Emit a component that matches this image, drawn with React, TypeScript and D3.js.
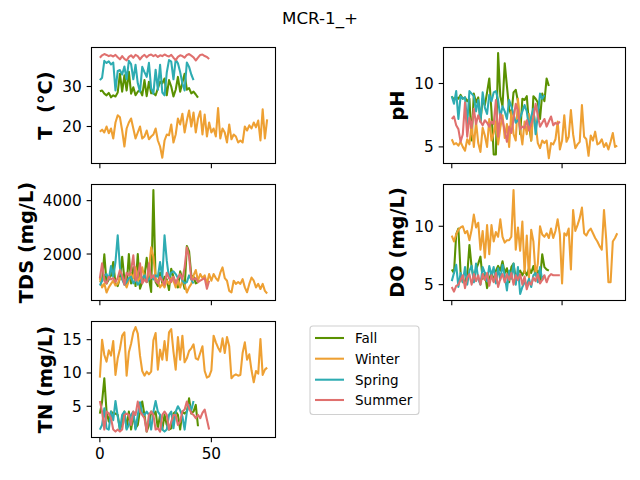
import React from 'react'
import * as d3 from 'd3'

// season colours
const seasons = ['Fall', 'Winter', 'Spring', 'Summer']
const colors = ['#5a9100', '#eea033', '#2eacb2', '#e0706e']

// temperature
const fallT = [28.8, 29.0, 28.2, 27.8, 28.4, 27.3, 27.8, 27.5, 28.5, 33.2, 28.7, 32.8, 29.0, 33.7, 28.2, 29.8, 27.8, 28.7, 29.1, 27.8, 31.6, 27.6, 31.2, 28.3, 28.3, 27.8, 29.5, 31.2, 30.8, 32.0, 27.8, 31.6, 30.0, 27.5, 29.2, 32.4, 28.7, 31.0, 33.2, 29.2, 29.6, 28.3, 28.7, 28.0, 27.2]
const winterT = [18.7, 19.2, 18.5, 20.0, 18.3, 19.5, 17.0, 21.0, 22.8, 22.3, 19.0, 15.0, 19.5, 21.0, 22.0, 19.5, 17.0, 18.5, 20.0, 17.0, 17.5, 19.0, 16.8, 17.5, 18.0, 19.5, 16.5, 15.0, 12.2, 16.5, 18.0, 17.8, 20.5, 16.0, 18.0, 22.0, 20.5, 23.2, 18.5, 21.5, 24.0, 20.0, 23.5, 18.5, 22.0, 23.8, 18.0, 23.0, 17.5, 21.0, 18.5, 19.5, 17.5, 24.6, 17.0, 19.5, 18.5, 16.0, 20.5, 16.8, 18.0, 17.5, 16.0, 16.5, 16.0, 20.0, 19.0, 20.3, 19.5, 21.0, 19.8, 21.5, 16.5, 24.3, 17.0, 21.8]
const springT = [31.6, 32.2, 36.4, 35.9, 36.3, 35.5, 36.0, 29.0, 33.9, 34.1, 33.0, 35.0, 31.8, 36.4, 35.6, 31.8, 35.4, 30.8, 28.7, 34.9, 33.6, 32.4, 35.9, 29.5, 28.2, 34.2, 29.2, 35.4, 28.5, 27.8, 33.5, 36.6, 36.2, 31.8, 36.7, 35.8, 33.6, 30.8, 29.0, 36.0, 34.9, 33.0, 31.6]
const summerT = [37.2, 37.8, 38.1, 37.9, 37.6, 37.8, 37.5, 37.9, 37.3, 36.8, 37.6, 36.9, 36.5, 37.4, 37.8, 37.2, 37.9, 37.6, 36.8, 37.5, 37.9, 37.3, 37.8, 38.0, 37.6, 37.9, 37.4, 37.8, 37.6, 38.0, 37.7, 37.5, 37.9, 37.2, 36.6, 37.4, 37.8, 37.6, 37.2, 37.9, 38.1, 37.7, 37.3, 36.5, 37.2, 37.9, 38.0, 37.6, 37.4, 36.9]

// pH
const fallPH = [9.0, 8.7, 8.9, 8.8, 9.1, 8.8, 8.9, 8.6, 8.8, 5.5, 9.2, 8.5, 8.9, 7.0, 8.8, 8.3, 9.3, 10.4, 7.8, 4.4, 4.4, 12.4, 9.0, 8.2, 11.6, 9.8, 8.0, 7.5, 9.3, 9.5, 8.6, 6.0, 8.8, 8.7, 9.0, 6.8, 5.5, 9.0, 8.8, 8.5, 7.2, 9.2, 8.6, 10.4, 9.8]
const winterPH = [5.6, 5.2, 5.3, 5.1, 5.4, 5.0, 4.7, 5.6, 5.2, 6.8, 5.0, 7.0, 5.3, 4.6, 6.5, 5.9, 5.0, 7.2, 5.5, 6.1, 7.0, 5.2, 6.5, 7.5, 5.7, 6.8, 5.0, 7.8, 6.0, 5.5, 8.8, 6.4, 5.2, 7.0, 6.0, 7.6, 5.5, 7.8, 6.8, 5.3, 4.9, 5.5, 5.3, 5.5, 4.1, 5.3, 5.2, 5.6, 7.0, 4.8, 5.5, 7.5, 5.4, 5.8, 7.9, 6.0, 4.9, 5.2, 5.4, 8.3, 5.8, 5.6, 4.3, 5.9, 5.5, 6.2, 5.2, 5.3, 5.6, 5.0, 5.3, 4.8, 5.4, 6.1, 5.0, 5.1]
const springPH = [9.0, 8.4, 9.4, 7.2, 9.0, 8.8, 8.9, 6.8, 9.4, 9.2, 9.0, 7.8, 8.7, 7.0, 9.3, 8.1, 7.6, 9.1, 8.6, 9.3, 9.4, 8.7, 7.3, 8.2, 7.8, 7.2, 8.7, 8.2, 7.6, 6.9, 7.1, 7.3, 7.8, 8.3, 7.8, 6.5, 7.4, 8.0, 6.0, 7.5, 9.2, 8.8, 9.1]
const summerPH = [7.2, 7.4, 6.7, 6.4, 5.4, 6.0, 8.5, 5.8, 7.3, 6.5, 8.0, 6.8, 7.5, 7.0, 6.7, 7.1, 6.9, 6.6, 7.0, 6.8, 8.7, 5.8, 7.6, 7.1, 6.3, 5.4, 6.6, 6.1, 7.2, 8.4, 7.9, 6.4, 6.6, 6.5, 7.1, 6.3, 6.8, 7.3, 8.4, 7.5, 6.6, 6.9, 7.2, 6.6, 7.0, 7.4, 6.7, 6.9, 6.8, 7.0]

// TDS
const fallTDS = [950, 1000, 1990, 900, 1050, 1200, 1700, 880, 800, 1100, 1900, 1050, 800, 2000, 900, 1500, 800, 2000, 700, 950, 1150, 1860, 1100, 580, 4400, 950, 800, 1300, 900, 1150, 1050, 650, 1450, 1150, 900, 750, 1350, 1050, 700, 2300, 2100, 1200, 1150, 900, 950]
const winterTDS = [1100, 750, 900, 560, 750, 880, 1000, 820, 880, 1100, 1050, 1000, 750, 1000, 1250, 1100, 1500, 1000, 1100, 1500, 1100, 950, 1400, 2250, 1900, 1100, 1000, 750, 880, 750, 1000, 880, 1100, 1000, 750, 1000, 750, 1000, 880, 560, 750, 880, 1200, 1400, 1000, 1250, 1100, 1200, 880, 1250, 1000, 1250, 1100, 1000, 1300, 1500, 1100, 1000, 620, 560, 1000, 880, 950, 880, 1060, 750, 570, 880, 1120, 1000, 750, 880, 690, 880, 620, 520]
const springTDS = [820, 1000, 1200, 1250, 1050, 1550, 1150, 1700, 2700, 1500, 1050, 850, 950, 1100, 1150, 900, 1050, 850, 950, 1100, 1200, 950, 1050, 1150, 1050, 1200, 1150, 1700, 1100, 2700, 1750, 1100, 1300, 1350, 1250, 1100, 1200, 1000, 900, 950, 1200, 1050, 900]
const summerTDS = [1100, 1650, 1000, 900, 1150, 1050, 1100, 950, 1100, 1400, 1200, 850, 1300, 1200, 1400, 1950, 1000, 1150, 1650, 900, 1050, 950, 1650, 1100, 1200, 1000, 900, 1150, 1000, 850, 1300, 1100, 950, 1150, 900, 1100, 1250, 1050, 1500, 2250, 1900, 1050, 1050, 1100, 950, 1000, 1050, 1100, 700, 1000]

// dissolved oxygen
const fallDO = [6.3, 6.0, 9.3, 9.8, 6.0, 5.2, 5.3, 5.8, 8.4, 6.5, 5.5, 6.3, 6.8, 7.4, 5.5, 6.0, 4.7, 5.5, 6.0, 5.3, 6.2, 6.6, 6.2, 7.0, 6.0, 6.4, 5.2, 6.5, 6.8, 5.5, 6.0, 6.2, 5.8, 6.2, 5.8, 6.4, 6.0, 6.6, 5.8, 6.2, 5.4, 7.6, 6.5, 6.3, 6.2]
const winterDO = [9.2, 8.7, 9.3, 9.7, 9.9, 10.0, 9.4, 9.6, 8.8, 9.7, 11.0, 9.9, 10.3, 8.0, 9.6, 7.3, 10.1, 7.6, 10.1, 8.7, 9.5, 9.1, 10.6, 9.1, 8.6, 8.8, 8.8, 9.1, 13.1, 8.0, 9.9, 7.9, 10.4, 6.0, 9.2, 5.6, 9.7, 8.7, 5.8, 6.8, 10.0, 9.3, 9.1, 9.4, 9.0, 9.8, 9.0, 9.6, 10.6, 9.3, 5.1, 9.4, 9.2, 9.8, 6.3, 11.4, 9.6, 10.1, 10.7, 11.6, 9.4, 9.2, 9.6, 9.8, 9.4, 9.0, 8.7, 8.3, 8.0, 11.4, 8.9, 5.2, 5.2, 8.7, 9.0, 9.4]
const springDO = [5.3, 6.0, 6.7, 4.8, 6.0, 5.2, 6.5, 5.0, 6.2, 6.6, 5.2, 6.8, 5.5, 5.0, 6.5, 6.0, 5.3, 6.6, 5.8, 6.5, 5.1, 6.4, 5.4, 6.7, 5.8, 4.5, 6.2, 5.5, 6.8, 5.0, 6.5, 4.2, 4.8, 5.2, 5.0, 5.5, 4.8, 5.8, 6.0, 5.2, 6.5, 5.4, 5.8]
const summerDO = [4.8, 4.4, 4.9, 5.0, 5.4, 5.8, 4.7, 5.6, 5.9, 5.0, 5.9, 5.3, 5.8, 5.0, 5.9, 5.4, 6.0, 4.9, 5.8, 5.2, 6.0, 4.8, 5.5, 5.9, 5.2, 5.9, 5.4, 6.0, 5.0, 5.8, 5.4, 5.9, 5.0, 5.7, 4.6, 5.2, 5.0, 5.6, 5.3, 5.9, 5.1, 5.4, 5.8, 5.2, 5.7, 5.9, 5.8, 5.8, 5.8, 5.8]

// total nitrogen
const fallTN = [3.9, 5.7, 9.2, 4.2, 2.7, 4.2, 3.9, 3.9, 3.7, 1.5, 2.5, 4.2, 1.7, 4.2, 1.5, 3.7, 1.7, 2.2, 4.5, 5.7, 3.7, 1.2, 2.2, 4.2, 3.7, 4.2, 1.7, 3.7, 1.5, 3.7, 2.2, 1.5, 1.7, 3.9, 4.2, 3.7, 1.5, 4.2, 3.9, 4.2, 6.2, 3.9, 4.2, 5.2, 2.0]
const winterTN = [9.3, 15.0, 12.7, 11.7, 13.4, 12.6, 14.8, 9.7, 12.2, 13.6, 15.6, 16.1, 9.6, 13.1, 14.4, 16.1, 16.9, 15.9, 12.6, 10.3, 9.6, 10.2, 9.8, 10.2, 14.9, 16.0, 10.5, 13.5, 12.0, 14.8, 11.9, 16.1, 16.6, 13.2, 10.5, 15.4, 12.0, 15.6, 11.6, 12.2, 13.3, 13.7, 14.3, 12.2, 12.0, 13.0, 14.0, 10.3, 9.3, 9.5, 10.4, 15.6, 14.6, 13.8, 13.2, 15.2, 13.0, 15.4, 14.0, 9.2, 9.6, 9.8, 9.6, 9.7, 13.0, 14.6, 12.0, 12.8, 10.4, 8.6, 10.3, 9.9, 15.1, 9.7, 10.5, 10.8]
const springTN = [1.5, 2.2, 4.7, 1.7, 1.5, 4.2, 2.9, 5.8, 3.5, 1.5, 3.7, 4.2, 1.5, 2.2, 3.7, 4.2, 1.5, 3.7, 5.6, 3.9, 3.7, 4.2, 3.7, 1.5, 4.2, 5.8, 4.2, 3.7, 1.5, 1.2, 1.5, 3.7, 4.2, 1.7, 4.2, 5.0, 4.4, 3.5, 1.5, 4.2, 5.2, 4.4, 5.8]
const summerTN = [5.8, 4.2, 1.5, 4.2, 3.9, 3.2, 1.5, 1.2, 1.5, 1.2, 1.5, 3.7, 3.9, 3.7, 2.2, 4.2, 3.7, 5.7, 4.2, 3.7, 3.2, 1.2, 3.7, 4.2, 3.7, 1.5, 1.7, 1.2, 3.7, 4.2, 3.7, 1.5, 2.7, 3.7, 3.7, 2.2, 2.7, 4.2, 4.5, 5.7, 4.7, 4.0, 3.7, 3.2, 3.7, 3.2, 4.0, 4.5, 3.0, 1.5]

const panels = [
    { label: 'T  (°C)', series: [fallT, winterT, springT, summerT], domain: [10.75, 39.75], ticks: [20, 30], col: 0, row: 0 },
    { label: 'pH', series: [fallPH, winterPH, springPH, summerPH], domain: [3.69, 12.84], ticks: [5, 10], col: 1, row: 0 },
    { label: 'TDS (mg/L)', series: [fallTDS, winterTDS, springTDS, summerTDS], domain: [259, 4604], ticks: [2000, 4000], col: 0, row: 1 },
    { label: 'DO (mg/L)', series: [fallDO, winterDO, springDO, summerDO], domain: [3.64, 13.58], ticks: [5, 10], col: 1, row: 1 },
    { label: 'TN (mg/L)', series: [fallTN, winterTN, springTN, summerTN], domain: [0.31, 17.73], ticks: [5, 10, 15], col: 0, row: 2 },
]
const xTicks = [0, 50]

const colX = [91.5, 443.5]
const colW = [184, 182]
const rowY = [47.5, 184.5, 321.5]
const rowH = 116
const font = 'DejaVu Sans, sans-serif'
const tickFs = 15.3

function Panel({ p }: { p: any }) {
    const x0 = colX[p.col]
    const w = colW[p.col]
    const y0 = rowY[p.row]
    const xScale = d3.scaleLinear().domain([-3.75, 78.75]).range([x0, x0 + w])
    const yScale = d3.scaleLinear().domain(p.domain).range([y0 + rowH, y0])
    const line = d3.line<number>().x((d, i) => xScale(i)).y(d => yScale(d))
    const maxLen = d3.max(p.ticks, (t: number) => String(t).length) as number
    const labelX = x0 - 9.72 - maxLen * 0.636 * tickFs - 5.6 - 4.6
    const showX = p.row === 2
    return (
        <g>
            {p.series.map((s: number[], k: number) => (
                <path key={k} d={line(s) || ''} fill="none" stroke={colors[k]} strokeWidth={2.08} strokeLinejoin="round" />
            ))}
            <rect x={x0} y={y0} width={w} height={rowH} fill="none" stroke="black" strokeWidth={1.1} />
            {p.ticks.map((t: number) => (
                <g key={t}>
                    <line x1={x0 - 4.86} x2={x0} y1={yScale(t)} y2={yScale(t)} stroke="black" strokeWidth={1.1} />
                    <text x={x0 - 9.72} y={yScale(t)} dy="0.36em" textAnchor="end" fontFamily={font} fontSize={tickFs}>{t}</text>
                </g>
            ))}
            {xTicks.map(t => (
                <g key={t}>
                    <line x1={xScale(t)} x2={xScale(t)} y1={y0 + rowH} y2={y0 + rowH + 4.86} stroke="black" strokeWidth={1.1} />
                    {showX && <text x={xScale(t)} y={y0 + rowH + 9.72 + 11.3} textAnchor="middle" fontFamily={font} fontSize={tickFs}>{t}</text>}
                </g>
            ))}
            <text transform={`translate(${labelX},${y0 + rowH / 2}) rotate(-90)`} textAnchor="middle" fontFamily={font} fontSize={19.4} fontWeight="bold" style={{ whiteSpace: 'pre' }}>{p.label}</text>
        </g>
    )
}

export default function App() {
    const legendY = [338, 358.7, 379.7, 400]
    return (
        <svg width={640} height={480} style={{ display: 'block', position: 'absolute', left: 0, top: 0 }}>
            <rect width={640} height={480} fill="white" />
            <text x={320} y={24} textAnchor="middle" fontFamily={font} fontSize={16.7}>MCR-1_+</text>
            {panels.map((p, i) => <Panel key={i} p={p} />)}
            <rect x={310} y={326} width={109} height={88.5} rx={3} fill="white" fillOpacity={0.8} stroke="#d0d0d0" strokeWidth={1.1} />
            {seasons.map((s, i) => (
                <g key={s}>
                    <line x1={315} x2={344} y1={legendY[i]} y2={legendY[i]} stroke={colors[i]} strokeWidth={2.08} />
                    <text x={355} y={legendY[i]} dy="0.36em" fontFamily={font} fontSize={13.5}>{s}</text>
                </g>
            ))}
        </svg>
    )
}
